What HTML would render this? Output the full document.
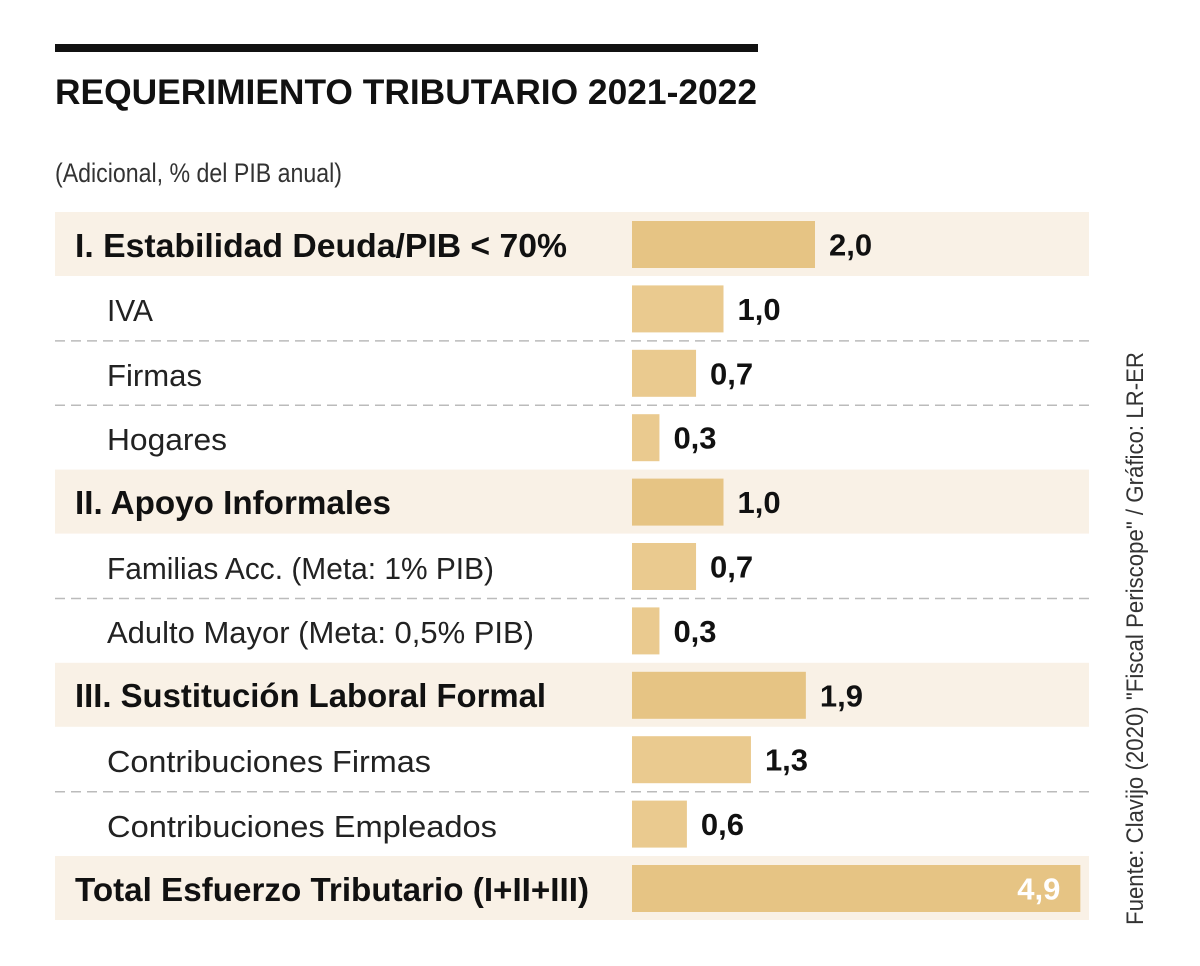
<!DOCTYPE html>
<html><head><meta charset="utf-8"><style>
html,body{margin:0;padding:0;background:#fff;}
svg{display:block;font-family:"Liberation Sans",sans-serif;}
</style></head><body>
<svg id="chart" width="1200" height="966" viewBox="0 0 1200 966">
<rect x="55" y="44" width="703" height="8" fill="#111"/>
<text x="55" y="104" font-size="35" font-weight="bold" fill="#111" textLength="702" lengthAdjust="spacingAndGlyphs">REQUERIMIENTO TRIBUTARIO 2021-2022</text>
<text x="55" y="182" font-size="27" fill="#333" textLength="287" lengthAdjust="spacingAndGlyphs">(Adicional, % del PIB anual)</text>
<g id="bands"></g>
<g id="labels">
<text x="75" y="257" font-size="33" font-weight="bold" fill="#111" textLength="492" lengthAdjust="spacingAndGlyphs">I.  Estabilidad Deuda/PIB &lt; 70%</text>
<text x="107" y="321" font-size="31" fill="#222" textLength="46" lengthAdjust="spacingAndGlyphs">IVA</text>
<text x="107" y="386" font-size="31" fill="#222" textLength="95" lengthAdjust="spacingAndGlyphs">Firmas</text>
<text x="107" y="450" font-size="31" fill="#222" textLength="120" lengthAdjust="spacingAndGlyphs">Hogares</text>
<text x="75" y="514" font-size="33" font-weight="bold" fill="#111" textLength="316" lengthAdjust="spacingAndGlyphs">II. Apoyo Informales</text>
<text x="107" y="579" font-size="31" fill="#222" textLength="387" lengthAdjust="spacingAndGlyphs">Familias Acc. (Meta: 1% PIB)</text>
<text x="107" y="643" font-size="31" fill="#222" textLength="427" lengthAdjust="spacingAndGlyphs">Adulto Mayor (Meta: 0,5% PIB)</text>
<text x="75" y="707" font-size="33" font-weight="bold" fill="#111" textLength="471" lengthAdjust="spacingAndGlyphs">III. Sustitución Laboral Formal</text>
<text x="107" y="772" font-size="31" fill="#222" textLength="324" lengthAdjust="spacingAndGlyphs">Contribuciones Firmas</text>
<text x="107" y="837" font-size="31" fill="#222" textLength="390" lengthAdjust="spacingAndGlyphs">Contribuciones Empleados</text>
<text x="75" y="901" font-size="33" font-weight="bold" fill="#111" textLength="514" lengthAdjust="spacingAndGlyphs">Total Esfuerzo Tributario (I+II+III)</text>
</g>
<g id="bars"></g>
<text transform="translate(1143,925) rotate(-90)" font-size="24" fill="#333" textLength="573" lengthAdjust="spacingAndGlyphs">Fuente: Clavijo (2020) "Fiscal Periscope" / Gráfico: LR-ER</text>
</svg>
<script>
const categories = ["I. Estabilidad Deuda/PIB < 70%","IVA","Firmas","Hogares","II. Apoyo Informales","Familias Acc.","Adulto Mayor","III. Sustitución Laboral Formal","Contribuciones Firmas","Contribuciones Empleados","Total Esfuerzo Tributario"];
const values = [2.0,1.0,0.7,0.3,1.0,0.7,0.3,1.9,1.3,0.6,4.9];
const rowTypes = ["section","sub","sub","sub","section","sub","sub","section","sub","sub","total"];
const valueLabels = ["2,0","1,0","0,7","0,3","1,0","0,7","0,3","1,9","1,3","0,6","4,9"];

const NS = "http://www.w3.org/2000/svg";
const x0 = 632, unit = 91.5;
function xScale(v){ return v * unit; }
function yCenter(i){ return 244.5 + i * 64.4; }
const bands = document.getElementById('bands');
const bars = document.getElementById('bars');
values.forEach((v,i)=>{
  const cy = yCenter(i);
  const t = rowTypes[i];
  if (t !== "sub") {
    const b = document.createElementNS(NS,'rect');
    b.setAttribute('x',55); b.setAttribute('y',cy-32.5);
    b.setAttribute('width',1034); b.setAttribute('height',64);
    b.setAttribute('fill','#f9f1e6');
    
    
    bands.appendChild(b);
  }
  if (t === "sub" && i+1 < values.length && rowTypes[i+1] === "sub") {
    const l = document.createElementNS(NS,'line');
    l.setAttribute('x1',55); l.setAttribute('x2',1089);
    l.setAttribute('y1',cy+32); l.setAttribute('y2',cy+32);
    l.setAttribute('stroke','#bbb'); l.setAttribute('stroke-width',1.5);
    l.setAttribute('stroke-dasharray','10,6');
    
    
    bands.appendChild(l);
  }
  const w = xScale(v);
  const r = document.createElementNS(NS,'rect');
  r.setAttribute('x',x0); r.setAttribute('y',cy-23.5);
  r.setAttribute('width',w); r.setAttribute('height',47);
  r.setAttribute('fill', t==="sub" ? '#eaca8f' : '#e6c484');
  
  
  bars.appendChild(r);
  const tx = document.createElementNS(NS,'text');
  if (t === "total") {
    tx.setAttribute('x', x0 + w - 20);
    tx.setAttribute('text-anchor','end');
    tx.setAttribute('fill','#fff');
  } else {
    tx.setAttribute('x', x0 + w + 14);
    tx.setAttribute('fill','#111');
  }
  tx.setAttribute('y', cy + 11);
  tx.setAttribute('font-size', 31);
  tx.setAttribute('font-weight','bold');
  tx.textContent = valueLabels[i];
  
  
  bars.appendChild(tx);
});
</script>
</body></html>
